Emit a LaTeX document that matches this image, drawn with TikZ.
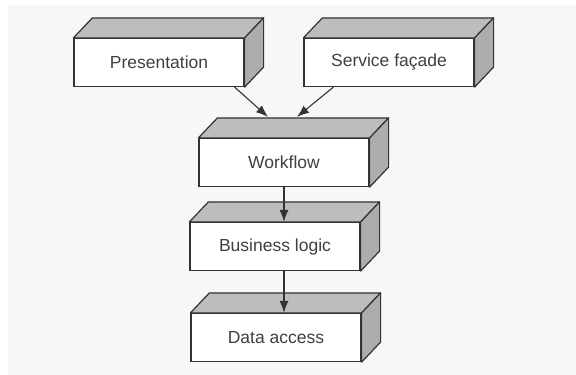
\documentclass[tikz,border=0pt]{standalone}
\usepackage{fontspec}
\setmainfont{Liberation Sans}
\usetikzlibrary{arrows.meta,calc}
\definecolor{topgray}{HTML}{BDBDBD}
\definecolor{sidegray}{HTML}{ADADAD}
\definecolor{edgegray}{HTML}{333333}
\definecolor{textgray}{HTML}{404040}
\definecolor{paper}{HTML}{F7F7F7}
\tikzset{
    layer/.style={rectangle, draw=edgegray, fill=white, line width=1.2pt,
    	minimum width=170pt, minimum height=48pt, inner sep=0pt,
    	font=\fontsize{17.5}{20}\selectfont, text=textgray},
    face/.style={draw=edgegray, line width=1.2pt, line join=round},
    flow/.style={draw=edgegray, line width=1.1pt, -{Latex[length=12pt,width=9pt]}}
}
\begin{document}
\begin{tikzpicture}[x=1pt, y=-1pt]
  \fill[white] (0,0) rectangle (576,375);
  \fill[paper] (8,5) rectangle (576,375);
  \useasboundingbox (0,0) rectangle (576,375);

  \node (pres) [layer] at (159,62.5) {Presentation};
  \node (svc) [layer] at (389,62.5) {Service façade};
  \node (wf) [layer] at (284,162.5) {Workflow};
  \node (bl) [layer] at (275,246.5) {Business logic};
  \node (da) [layer] at (276,337.5) {Data access};

  \foreach \n in {pres,svc,wf,bl,da} {
    \draw[face, fill=topgray] (\n.north west) -- ++(19,-20)
      -- ($(\n.north east)+(19,-20)$) -- (\n.north east) -- cycle;
    \draw[face, fill=sidegray] (\n.north east) -- ++(19,-20)
      -- ($(\n.south east)+(19,-20)$) -- (\n.south east) -- cycle;
  }

  \coordinate (presout) at ($(pres.south east)+(-10,0)$);
  \coordinate (svcout) at ($(svc.south west)+(30,0)$);
  \coordinate (wfleft) at ($(wf.north)+(-16,-21)$);
  \coordinate (wfright) at ($(wf.north)+(13,-21)$);

  \draw[flow] (presout) -- (wfleft);
  \draw[flow] (svcout) -- (wfright);
  \draw[flow] (wf.south) -- (wf.south |- bl.north);
  \draw[flow] (wf.south |- bl.south) -- (wf.south |- da.north);
\end{tikzpicture}
\end{document}
